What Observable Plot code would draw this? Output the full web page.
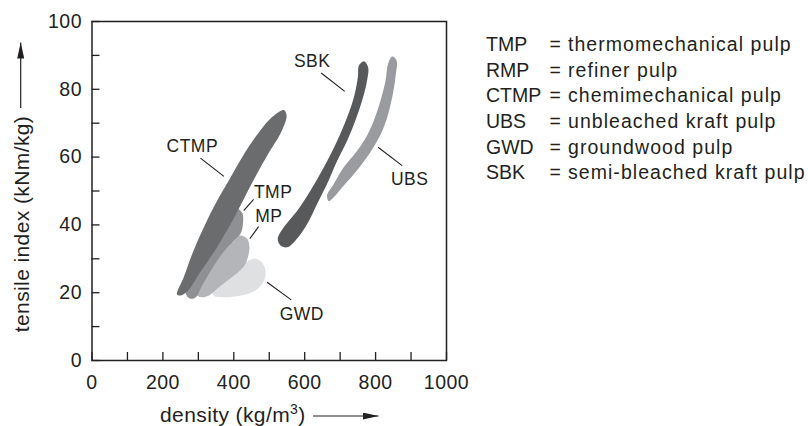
<!DOCTYPE html>
<html>
<head>
<meta charset="utf-8">
<script src="https://cdn.jsdelivr.net/npm/d3@7"></script>
<script src="https://cdn.jsdelivr.net/npm/@observablehq/plot@0.6"></script>
<style>
  body { margin: 0; background: #fff; }
  #chart { width: 808px; height: 426px; }
</style>
</head>
<body>
<div id="chart"></div>
<script>
// ---- axis ticks ----
const xTicks = [0, 100, 200, 300, 400, 500, 600, 700, 800, 900, 1000];
const xTickLabels = [0, 200, 400, 600, 800, 1000];
const yTicks = [0, 10, 20, 30, 40, 50, 60, 70, 80, 90, 100];
const yTickLabels = [0, 20, 40, 60, 80, 100];

// ---- region outlines (density kg/m3, tensile index kNm/kg) ----
const gwdDensity = [343, 358, 405, 452, 480, 490, 485, 472, 456, 432, 415, 375, 340];
const gwdTensile = [19.2, 18.7, 18.9, 20.1, 22.6, 25.6, 28, 29.6, 30, 28.8, 27, 23.5, 20.5];

const mpDensity = [290, 306, 330, 358, 395, 420, 433, 440, 444, 438, 419, 400, 350, 305];
const mpTensile = [20, 18.7, 19.2, 21.6, 24.6, 26.8, 28.5, 30.5, 33.4, 35.9, 36.9, 36.2, 30, 22.5];

const tmpDensity = [265, 276, 292, 310, 330, 367, 400, 419, 426, 424, 410, 395, 370, 330, 295];
const tmpTensile = [19.8, 18.3, 18.6, 22, 25.6, 31.5, 35.4, 37.4, 40.5, 43.5, 44.8, 44.2, 40, 33, 26];

const ctmpDensity = [240, 259, 283, 311, 348, 386, 424, 461, 508, 541, 549, 532, 500, 465, 430, 395, 350, 305, 270, 250];
const ctmpTensile = [19.5, 24.6, 31.5, 38.3, 46.2, 53.1, 60, 65.9, 71.8, 73.9, 72.3, 67, 61.5, 55, 48, 41, 33, 26, 20.5, 19.2];

const ubsDensity = [847, 859, 856, 847, 833, 819, 805, 776, 739, 706, 678, 668, 663, 682, 710, 748, 776, 795, 814, 828, 835];
const ubsTensile = [89.7, 88.5, 83.6, 77.7, 71.8, 67.8, 64.9, 60, 55, 51.1, 47.7, 47, 48.7, 52.1, 57, 61.9, 66.4, 70.8, 76.7, 82.6, 87.5];

const sbkDensity = [767, 779, 776, 762, 743, 720, 692, 663, 635, 607, 574, 551, 532, 524, 541, 579, 616, 654, 692, 720, 739, 750, 753];
const sbkTensile = [88.3, 86.5, 82.6, 76.7, 70.8, 64.9, 59, 52.1, 46.2, 40.3, 35.4, 33.4, 33.9, 35.9, 39.3, 44.2, 50.1, 57, 64.9, 71.8, 77.7, 83.6, 87];

const regionNames = ["GWD", "MP", "TMP", "CTMP", "UBS", "SBK"];
const regionFills = ["#dfe0e2", "#b4b5b8", "#8f9093", "#6b6c6e", "#9a9b9e", "#58595b"];
const regionDensity = [gwdDensity, mpDensity, tmpDensity, ctmpDensity, ubsDensity, sbkDensity];
const regionTensile = [gwdTensile, mpTensile, tmpTensile, ctmpTensile, ubsTensile, sbkTensile];

// ---- region labels and leader lines ----
const labelNames = ["CTMP", "TMP", "MP", "GWD", "SBK", "UBS"];
const labelDensity = [283, 511, 499, 592, 621, 896];
const labelTensile = [63.3, 49.7, 42.5, 13.7, 88.2, 53.4];
const leaderDensity1 = [306, 456, 470, 562, 646.5, 875];
const leaderTensile1 = [59.7, 47.5, 39.5, 17.9, 84.8, 57.5];
const leaderDensity2 = [372, 428, 445, 494, 713, 807];
const leaderTensile2 = [54.3, 44.2, 35.9, 23.1, 79.4, 62.9];

// ---- legend ----
const legendAbbr = ["TMP", "RMP", "CTMP", "UBS", "GWD", "SBK"];
const legendDesc = ["thermomechanical pulp", "refiner pulp", "chemimechanical pulp",
                    "unbleached kraft pulp", "groundwood pulp", "semi-bleached kraft pulp"];

// ---- titles ----
const xTitleMain = "density (kg/m";
const xTitleSup = "3";
const xTitleEnd = ")";
const yTitle = "tensile index (kNm/kg)";

const ink = "#231f20";
const font = "'Liberation Sans', Arial, Helvetica, sans-serif";

const regions = regionNames.map((name, i) => ({
  name, fill: regionFills[i],
  points: regionDensity[i].map((d, j) => ({d, t: regionTensile[i][j]}))
}));
const labels = labelNames.map((name, i) => ({name, d: labelDensity[i], t: labelTensile[i]}));
const leaders = labelNames.map((name, i) => ({
  d1: leaderDensity1[i], t1: leaderTensile1[i], d2: leaderDensity2[i], t2: leaderTensile2[i]
}));

const svg = Plot.plot({
  width: 808, height: 426,
  marginLeft: 91.5, marginRight: 362, marginTop: 21, marginBottom: 66,
  x: {domain: [0, 1000]},
  y: {domain: [0, 100]},
  style: {fontFamily: font, fontSize: "19.5px", color: ink, background: "#fff", overflow: "visible"},
  marks: [
    ...regions.map(r => Plot.line(r.points, {
      x: "d", y: "t", curve: "catmull-rom-closed", fill: r.fill, stroke: "none"
    })),
    Plot.link(leaders, {x1: "d1", y1: "t1", x2: "d2", y2: "t2", stroke: ink, strokeWidth: 1.1}),
    Plot.text(labels, {x: "d", y: "t", text: "name", fontSize: 17.5, fill: ink}),
    Plot.axisX({ticks: xTicks, tickSize: 8, dy: -8, tickFormat: () => "", label: null, stroke: ink, strokeWidth: 1.3}),
    Plot.axisX({ticks: xTickLabels, tickSize: 0, tickPadding: 15, tickFormat: d => String(d), label: null, fill: ink}),
    Plot.axisY({ticks: yTicks, tickSize: 8, dx: 8, tickFormat: () => "", label: null, stroke: ink, strokeWidth: 1.3}),
    Plot.axisY({ticks: yTickLabels, tickSize: 0, tickPadding: 10, tickFormat: d => String(d), label: null, fill: ink}),
    Plot.frame({stroke: ink, strokeWidth: 1.5})
  ]
});

const s = d3.select(svg);
s.selectAll("text").style("letter-spacing", "0.5px");

// arrowhead marker
const defs = s.append("defs");
defs.append("marker")
  .attr("id", "arrowhead").attr("viewBox", "0 0 16 7").attr("refX", 16).attr("refY", 3.5)
  .attr("markerWidth", 16).attr("markerHeight", 7).attr("markerUnits", "userSpaceOnUse")
  .attr("orient", "auto")
  .append("path").attr("d", "M0,0 L16,3.5 L0,7 Z").attr("fill", ink);

// x title + arrow
const xt = s.append("text").attr("x", 160).attr("y", 422).attr("text-anchor", "start")
  .attr("font-family", font).attr("font-size", 21).attr("fill", ink)
  .style("letter-spacing", "0.4px");
xt.append("tspan").text(xTitleMain);
xt.append("tspan").attr("dy", -8).attr("font-size", 14).text(xTitleSup);
xt.append("tspan").attr("dy", 8).text(xTitleEnd);
s.append("line").attr("x1", 313).attr("y1", 416).attr("x2", 378.5).attr("y2", 416)
  .attr("stroke", ink).attr("stroke-width", 1.2).attr("marker-end", "url(#arrowhead)");

// y title + arrow
s.append("text").attr("transform", "translate(28.5,224) rotate(-90)").attr("text-anchor", "middle")
  .attr("font-family", font).attr("font-size", 21).attr("fill", ink)
  .style("letter-spacing", "0.4px").text(yTitle);
s.append("line").attr("x1", 20.7).attr("y1", 108).attr("x2", 20.7).attr("y2", 42.5)
  .attr("stroke", ink).attr("stroke-width", 1.2).attr("marker-end", "url(#arrowhead)");

// legend
const lg = s.append("g").attr("font-family", font).attr("font-size", 19.5).attr("fill", ink)
  .attr("text-anchor", "start");
legendAbbr.forEach((a, i) => {
  const y = 51 + i * 25.65;
  lg.append("text").attr("x", 486).attr("y", y).attr("text-anchor", "start").text(a);
  lg.append("text").attr("x", 549.5).attr("y", y).attr("text-anchor", "start").text("=");
  lg.append("text").attr("x", 568).attr("y", y).attr("text-anchor", "start")
    .style("letter-spacing", "1.05px").text(legendDesc[i]);
});

document.getElementById("chart").appendChild(svg);
</script>
</body>
</html>
